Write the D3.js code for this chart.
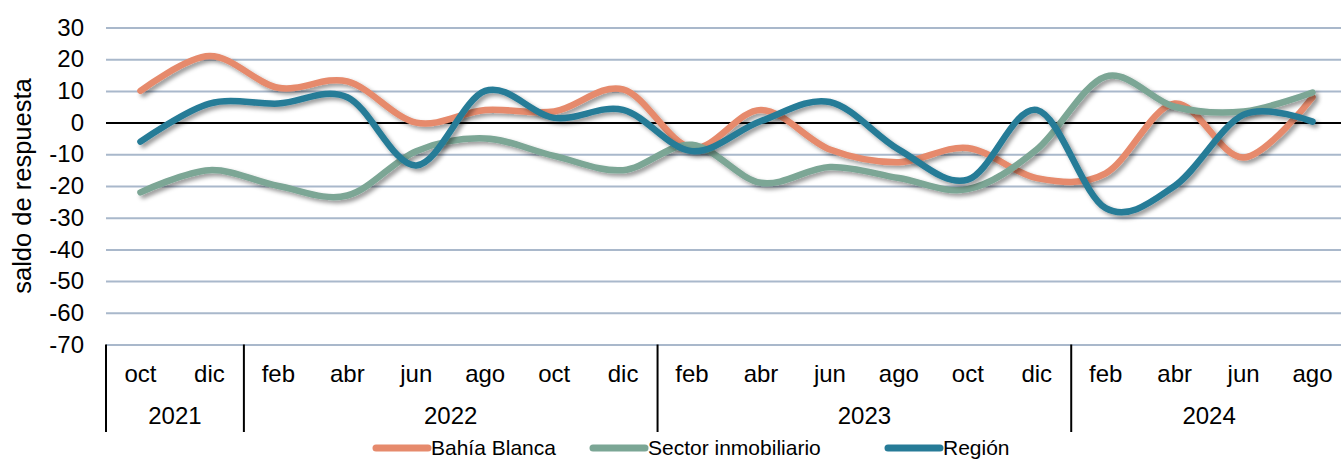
<!DOCTYPE html>
<html>
<head>
<meta charset="utf-8">
<script src="https://cdn.jsdelivr.net/npm/d3@7"></script>
<style>
  body { margin: 0; background: #fff; }
  text { font-family: "Liberation Sans", Arial, sans-serif; fill: #000; }
</style>
</head>
<body>
<svg></svg>
<script>
const width = 1341;
const height = 459;

// categories
const months = ["oct", "dic", "feb", "abr", "jun", "ago", "oct", "dic",
  "feb", "abr", "jun", "ago", "oct", "dic", "feb", "abr", "jun", "ago"];
const years = [
  { label: "2021", start: 0, end: 2 },
  { label: "2022", start: 2, end: 8 },
  { label: "2023", start: 8, end: 14 },
  { label: "2024", start: 14, end: 18 }
];
const yTicks = [30, 20, 10, 0, -10, -20, -30, -40, -50, -60, -70];

// series values
const bahiaBlanca = [10, 21, 11, 13, 0, 4, 3.5, 10.5, -8, 4, -8.5, -12.5, -8, -17.5, -16, 6, -11, 8];
const sectorInmobiliario = [-22, -15, -20, -23, -9, -5, -10.5, -15, -7, -19, -14, -17.5, -21, -8.5, 14.5, 5, 3.5, 9.5];
const region = [-6, 6, 6, 8, -13.5, 10, 1.5, 4, -9, 0.5, 6.5, -8.5, -18, 4, -27, -20, 2.5, 0.3];

const seriesNames = ["Bahía Blanca", "Sector inmobiliario", "Región"];
const seriesColors = ["#E68A6C", "#7BA695", "#267B97"];
const series = [bahiaBlanca, sectorInmobiliario, region];

const plotLeft = 106, plotRight = 1347, plotTop = 27.5, plotBottom = 344.5;

const svg = d3.select("svg").attr("width", width).attr("height", height);

const defs = svg.append("defs");
const filter = defs.append("filter").attr("id", "shadow")
  .attr("x", "-5%").attr("y", "-20%").attr("width", "110%").attr("height", "140%");
filter.append("feDropShadow")
  .attr("dx", 3).attr("dy", 3).attr("stdDeviation", 2)
  .attr("flood-color", "#000").attr("flood-opacity", 0.4);

const x = d3.scaleBand()
  .domain(d3.range(months.length))
  .range([plotLeft, plotRight]);

const y = d3.scaleLinear()
  .domain([-70, 30])
  .range([plotBottom, plotTop]);

// gridlines
const yAxis = d3.axisLeft(y)
  .tickValues(yTicks)
  .tickSize(-(plotRight - plotLeft))
  .tickFormat(d => d)
  .tickPadding(22);

const gy = svg.append("g")
  .attr("transform", `translate(${plotLeft},0)`)
  .call(yAxis);
gy.select(".domain").remove();
gy.selectAll(".tick line")
  .attr("stroke", d => d === 0 ? "#000" : "#A9B8CB")
  .attr("stroke-width", 2);
gy.selectAll(".tick text")
  .style("font-size", "24px")
  .style("font-family", "'Liberation Sans', Arial, sans-serif");

// lower category axis
const axisG = svg.append("g");
const sepIdx = [0, 2, 8, 14];
axisG.selectAll("line.sep")
  .data(sepIdx)
  .enter()
  .append("line")
  .attr("x1", d => x(d))
  .attr("x2", d => x(d))
  .attr("y1", plotBottom)
  .attr("y2", 432)
  .attr("stroke", "#000")
  .attr("stroke-width", 2);

axisG.selectAll("text.month")
  .data(months)
  .enter()
  .append("text")
  .attr("x", (d, i) => x(i) + x.bandwidth() / 2)
  .attr("y", 382)
  .attr("text-anchor", "middle")
  .style("font-size", "24px")
  .text(d => d);

axisG.selectAll("text.year")
  .data(years)
  .enter()
  .append("text")
  .attr("x", d => (x(d.start) + (d.end < months.length ? x(d.end) : plotRight)) / 2)
  .attr("y", 424)
  .attr("text-anchor", "middle")
  .style("font-size", "24px")
  .text(d => d.label);

// y title
svg.append("text")
  .attr("transform", `translate(31,${(plotTop + plotBottom) / 2}) rotate(-90)`)
  .attr("text-anchor", "middle")
  .style("font-size", "25.5px")
  .text("saldo de respuesta");

// lines
const line = d3.line()
  .x((d, i) => x(i) + x.bandwidth() / 2)
  .y(d => y(d))
  .curve(d3.curveCardinal.tension(0));

svg.append("g")
  .selectAll("path")
  .data(series)
  .enter()
  .append("path")
  .attr("d", line)
  .attr("fill", "none")
  .attr("stroke", (d, i) => seriesColors[i])
  .attr("stroke-width", 6.5)
  .attr("stroke-linecap", "round")
  .attr("stroke-linejoin", "round")
  .attr("filter", "url(#shadow)");

// legend
const legendX = [373, 590, 885];
const legend = svg.append("g")
  .selectAll("g")
  .data(seriesNames)
  .enter()
  .append("g")
  .attr("transform", (d, i) => `translate(${legendX[i]},448)`);
legend.append("line")
  .attr("x1", 3).attr("x2", 55)
  .attr("stroke", (d, i) => seriesColors[i])
  .attr("stroke-width", 7)
  .attr("stroke-linecap", "round");
legend.append("text")
  .attr("x", 58)
  .attr("y", 6.5)
  .style("font-size", "21px")
  .text(d => d);
</script>
</body>
</html>
